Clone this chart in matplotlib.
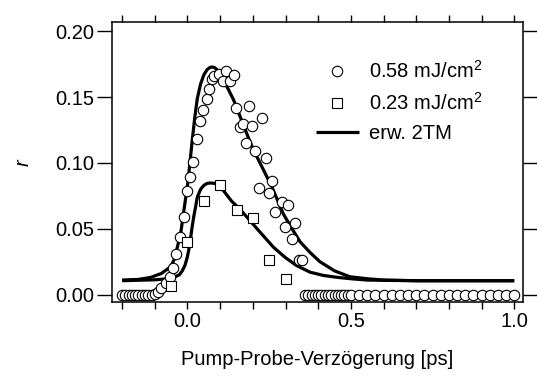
import matplotlib
matplotlib.use("Agg")
import matplotlib.pyplot as plt
from matplotlib.ticker import FixedLocator

plt.rcParams['font.family'] = ['Liberation Sans', 'DejaVu Sans']
plt.rcParams['mathtext.fontset'] = 'custom'
plt.rcParams['mathtext.rm'] = 'Liberation Sans'
plt.rcParams['mathtext.it'] = 'Liberation Sans:italic'

# 0.58 mJ/cm^2 data (circles)
x_hi = [-0.20, -0.19, -0.18, -0.17, -0.16, -0.15, -0.14, -0.13, -0.12, -0.11, -0.10,
        -0.09, -0.08, -0.067, -0.054, -0.044, -0.034, -0.024, -0.011, -0.003, 0.007,
        0.017, 0.028, 0.037, 0.047, 0.059, 0.065, 0.075, 0.082, 0.097, 0.108, 0.117,
        0.131, 0.141, 0.149, 0.160, 0.170, 0.178, 0.188, 0.198, 0.208, 0.219, 0.229,
        0.239, 0.251, 0.259, 0.268, 0.289, 0.299, 0.309, 0.319, 0.329, 0.340, 0.350,
        0.36, 0.37, 0.38, 0.39, 0.40, 0.41, 0.42, 0.43, 0.44, 0.45, 0.46, 0.47, 0.48,
        0.49, 0.50, 0.525, 0.55, 0.575, 0.60, 0.625, 0.65, 0.675, 0.70, 0.725, 0.75,
        0.775, 0.80, 0.825, 0.85, 0.875, 0.90, 0.925, 0.95, 0.975, 1.00]
y_hi = [0, 0, 0, 0, 0, 0, 0, 0, 0, 0, 0.0005,
        0.002, 0.005, 0.009, 0.013, 0.020, 0.031, 0.044, 0.059, 0.079, 0.089,
        0.101, 0.118, 0.132, 0.140, 0.149, 0.156, 0.164, 0.166, 0.168, 0.162, 0.170,
        0.162, 0.167, 0.142, 0.127, 0.130, 0.115, 0.143, 0.128, 0.109, 0.081, 0.134,
        0.104, 0.077, 0.086, 0.063, 0.070, 0.051, 0.068, 0.042, 0.054, 0.026, 0.026,
        0, 0, 0, 0, 0, 0, 0, 0, 0, 0, 0, 0, 0,
        0, 0, 0, 0, 0, 0, 0, 0, 0, 0, 0, 0,
        0, 0, 0, 0, 0, 0, 0, 0, 0, 0]

# 0.23 mJ/cm^2 data (squares)
x_lo = [-0.05, 0.0, 0.05, 0.10, 0.15, 0.20, 0.25, 0.30]
y_lo = [0.0066, 0.040, 0.071, 0.083, 0.064, 0.058, 0.026, 0.012]

# extended two-temperature model curves
x_m1 = [-0.20, -0.15, -0.113, -0.08, -0.052, -0.04, -0.031, -0.02, -0.011, 0.0,
        0.007, 0.014, 0.022, 0.03, 0.04, 0.05, 0.06, 0.068, 0.075, 0.083, 0.09,
        0.10, 0.11, 0.125, 0.141, 0.16, 0.182, 0.20, 0.223, 0.24, 0.258, 0.275,
        0.294, 0.32, 0.345, 0.375, 0.405, 0.45, 0.497, 0.55, 0.60, 0.70, 0.80, 1.00]
y_m1 = [0.011, 0.0115, 0.013, 0.016, 0.021, 0.027, 0.036, 0.048, 0.064, 0.083,
        0.099, 0.116, 0.134, 0.149, 0.160, 0.167, 0.171, 0.1725, 0.173, 0.1725, 0.171,
        0.168, 0.163, 0.156, 0.148, 0.136, 0.122, 0.111, 0.0995, 0.091, 0.082, 0.072,
        0.061, 0.050, 0.040, 0.032, 0.025, 0.018, 0.0135, 0.012, 0.011, 0.0105, 0.0105, 0.0105]

x_m2 = [-0.20, -0.10, -0.06, -0.042, -0.025, -0.016, -0.008, -0.001, 0.004, 0.009,
        0.014, 0.019, 0.025, 0.03, 0.04, 0.05, 0.06, 0.07, 0.08, 0.09, 0.11, 0.135,
        0.16, 0.185, 0.22, 0.263, 0.30, 0.334, 0.375, 0.416, 0.46, 0.50, 0.55, 0.60,
        0.70, 0.80, 1.00]
y_m2 = [0.0105, 0.0112, 0.012, 0.013, 0.015, 0.018, 0.022, 0.028, 0.034, 0.042,
        0.051, 0.059, 0.067, 0.074, 0.080, 0.083, 0.0845, 0.0848, 0.0846, 0.084, 0.079, 0.071,
        0.065, 0.058, 0.048, 0.036, 0.028, 0.022, 0.017, 0.0145, 0.013, 0.012, 0.011, 0.0108,
        0.0105, 0.0105, 0.0105]

x_major = [0.0, 0.5, 1.0]
x_major_labels = ['0.0', '0.5', '1.0']
x_minor = [-0.2, -0.1, 0.1, 0.2, 0.3, 0.4, 0.6, 0.7, 0.8, 0.9]
y_ticks = [0.0, 0.05, 0.10, 0.15, 0.20]
y_tick_labels = ['0.00', '0.05', '0.10', '0.15', '0.20']

fig = plt.figure(figsize=(5.37, 3.88), dpi=100)
ax = fig.add_axes([0.2086, 0.2216, 0.7654, 0.7217])

lw = 2.3
ax.plot(x_m1, y_m1, color='black', lw=lw, solid_capstyle='butt', zorder=2, label='erw. 2TM')
ax.plot(x_m2, y_m2, color='black', lw=lw, solid_capstyle='butt', zorder=2)
ax.plot(x_hi, y_hi, 'o', ms=7.5, mfc='white', mec='black', mew=0.8, zorder=3,
        label='0.58 mJ/cm$^2$')
ax.plot(x_lo, y_lo, 's', ms=7.5, mfc='white', mec='black', mew=0.8, zorder=3,
        label='0.23 mJ/cm$^2$')

ax.set_xlim(-0.231, 1.027)
ax.set_ylim(-0.0057, 0.2072)

fs = 14.5
ax.xaxis.set_major_locator(FixedLocator(x_major))
ax.xaxis.set_minor_locator(FixedLocator(x_minor))
ax.set_xticklabels(x_major_labels)
ax.set_yticks(y_ticks)
ax.set_yticklabels(y_tick_labels)

ax.tick_params(axis='x', which='both', direction='out', length=5.2, width=1.0,
               top=True, bottom=True, labelsize=fs, pad=2)
ax.tick_params(axis='y', which='both', direction='out', length=11, width=1.0,
               left=True, right=True, labelsize=fs, pad=2)
for s in ax.spines.values():
    s.set_linewidth(1.1)

ax.set_xlabel('Pump-Probe-Verzögerung [ps]', fontsize=fs, labelpad=14)
ax.set_ylabel('$\\mathit{r}$', fontsize=fs, labelpad=16)

h, l = ax.get_legend_handles_labels()
order = [1, 2, 0]
ax.legend([h[i] for i in order], [l[i] for i in order], loc='upper left',
          bbox_to_anchor=(0.497, 0.865), frameon=False, fontsize=fs,
          handlelength=2.1, handletextpad=0.5, borderaxespad=0, borderpad=0,
          labelspacing=0.5)

fig.savefig('out.png', dpi=100)
